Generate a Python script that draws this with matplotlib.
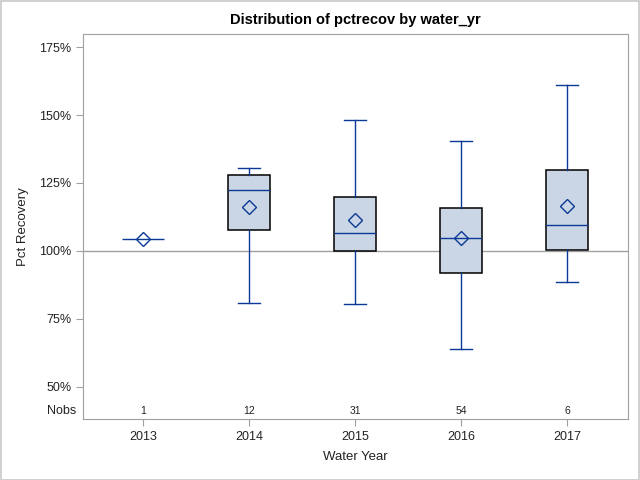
import numpy as np
import matplotlib.pyplot as plt
from matplotlib.patches import Rectangle

# values (percent)
years = ['2013', '2014', '2015', '2016', '2017']
nobs = [1, 12, 31, 54, 6]
whisker_lo = [104.3, 80.8, 80.4, 63.9, 88.5]
q1 = [104.3, 107.6, 100.0, 91.8, 100.2]
median = [104.3, 122.3, 106.6, 104.7, 109.6]
q3 = [104.3, 127.9, 119.7, 115.7, 129.7]
whisker_hi = [104.3, 130.4, 148.2, 140.3, 160.9]
means = [104.3, 116.1, 111.3, 104.9, 116.4]
y_ticks = [50, 75, 100, 125, 150, 175]

plt.rcParams['font.family'] = ['Liberation Sans', 'DejaVu Sans']

blue = '#0b3a96'
fill = '#cad5e5'
frame = '#a0a0a0'
text_c = '#222222'

fig = plt.figure(figsize=(6.4, 4.8), dpi=100)
ax = fig.add_axes([0.1297, 0.1265, 0.8516, 0.8027])

stats = []
for i in range(len(years)):
    stats.append({'whislo': whisker_lo[i], 'q1': q1[i], 'med': median[i],
                  'q3': q3[i], 'whishi': whisker_hi[i], 'mean': means[i],
                  'label': years[i]})

pos = np.arange(len(years))
ax.axhline(100, color=frame, lw=1.0, zorder=1)

art = ax.bxp(stats, positions=pos, widths=0.4, showmeans=True, showfliers=False,
             patch_artist=True, manage_ticks=False,
             boxprops=dict(facecolor=fill, edgecolor='black', linewidth=1.1),
             whiskerprops=dict(color=blue, linewidth=1.0),
             capprops=dict(color=blue, linewidth=1.0),
             medianprops=dict(color=blue, linewidth=1.0),
             meanprops=dict(marker='D', markerfacecolor='none', markeredgecolor=blue,
                            markersize=7, markeredgewidth=1.0),
             capwidths=0.2)
for b in art['boxes']:
    b.set_zorder(2)
# single observation year: no box, only the blue line
if nobs[0] == 1:
    art['boxes'][0].set_visible(False)
    for c in art['caps'][0:2]:
        c.set_visible(False)

ax.set_xlim(-0.566, 4.575)
ax.set_ylim(38.1, 179.8)
ax.set_yticks(y_ticks)
ax.set_yticklabels(['{}%'.format(t) for t in y_ticks])
ax.set_xticks(pos)
ax.set_xticklabels(years)

for i in range(len(years)):
    ax.text(pos[i], 41.2, str(nobs[i]), ha='center', va='center', fontsize=7.5, color=text_c)
ax.text(-0.012, 41.2, 'Nobs', transform=ax.get_yaxis_transform(), ha='right', va='center',
        fontsize=9, color=text_c)

for s in ax.spines.values():
    s.set_color(frame)
ax.tick_params(colors=frame, labelcolor=text_c, labelsize=9, length=5, width=0.8)

ax.set_title('Distribution of pctrecov by water_yr', fontsize=10.5, fontweight='bold',
             color='black', pad=7)
ax.set_ylabel('Pct Recovery', fontsize=9.5, color=text_c, labelpad=7)
ax.set_xlabel('Water Year', fontsize=9.5, color=text_c, labelpad=6)

fig.patches.append(Rectangle((0.5 / 640, 0.5 / 480), 1 - 1.5 / 640, 1 - 1.5 / 480,
                             transform=fig.transFigure, fill=False,
                             edgecolor='#c8c8c8', linewidth=1.2))

fig.savefig('out.png', dpi=100)
